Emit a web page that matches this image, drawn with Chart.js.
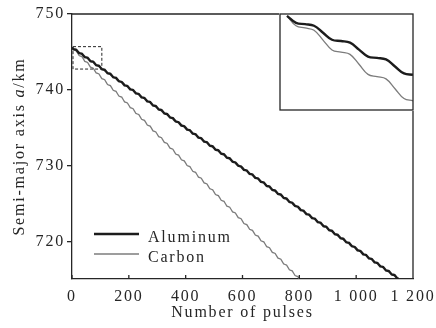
<!DOCTYPE html>
<html><head><meta charset="utf-8">
<script src="https://cdn.jsdelivr.net/npm/chart.js@4.4.1/dist/chart.umd.min.js"></script>
<style>
html,body{margin:0;padding:0;background:#fff;}
#wrap{position:relative;width:436px;height:328px;overflow:hidden;}
#main{position:absolute;left:0;top:0;}
#inset{position:absolute;left:279px;top:13px;}
</style></head><body>
<div id="wrap"><canvas id="main" width="436" height="328"></canvas><canvas id="inset" width="135" height="98"></canvas></div>
<script>
// ---- data ----
const xTickValues = [0,200,400,600,800,1000,1200];
const xTickLabels = ['0','200','400','600','800','1 000','1 200'];
const yTickValues = [720,730,740,750];
const seriesNames = ['Aluminum','Carbon'];
const pulseStep = 5; // sampling grid of the read-off values (pulses)
const aluminum = [
745.60,745.38,745.34,745.29, 745.07,744.85,744.81,744.76, 744.54,744.32,744.28,744.23,
744.01,743.79,743.75,743.70, 743.48,743.26,743.22,743.17, 742.95,742.73,742.69,742.64,
742.42,742.20,742.16,742.11, 741.89,741.67,741.63,741.58, 741.36,741.14,741.10,741.05,
740.83,740.61,740.57,740.52, 740.30,740.08,740.04,739.99, 739.77,739.55,739.51,739.46,
739.24,739.02,738.98,738.93, 738.71,738.49,738.45,738.40, 738.18,737.96,737.92,737.87,
737.65,737.43,737.39,737.34, 737.12,736.90,736.86,736.81, 736.59,736.37,736.33,736.28,
736.06,735.84,735.80,735.75, 735.53,735.31,735.27,735.22, 735.00,734.78,734.74,734.69,
734.47,734.25,734.21,734.16, 733.94,733.72,733.68,733.63, 733.41,733.19,733.15,733.10,
732.88,732.66,732.62,732.57, 732.35,732.13,732.09,732.04, 731.82,731.60,731.56,731.51,
731.29,731.07,731.03,730.98, 730.76,730.54,730.50,730.45, 730.23,730.01,729.97,729.92,
729.70,729.48,729.44,729.39, 729.17,728.95,728.91,728.86, 728.64,728.42,728.38,728.33,
728.11,727.89,727.85,727.80, 727.58,727.36,727.32,727.27, 727.05,726.83,726.79,726.74,
726.52,726.30,726.26,726.21, 725.99,725.77,725.73,725.68, 725.46,725.24,725.20,725.15,
724.93,724.71,724.67,724.62, 724.40,724.18,724.14,724.09, 723.87,723.65,723.61,723.56,
723.34,723.12,723.08,723.03, 722.81,722.59,722.55,722.50, 722.28,722.06,722.02,721.97,
721.75,721.53,721.49,721.44, 721.22,721.00,720.96,720.91, 720.69,720.47,720.43,720.38,
720.16,719.94,719.90,719.85, 719.63,719.41,719.37,719.32, 719.10,718.88,718.84,718.79,
718.57,718.35,718.31,718.26, 718.04,717.82,717.78,717.73, 717.51,717.29,717.25,717.20,
716.98,716.76,716.72,716.67, 716.45,716.23,716.19,716.14, 715.92,715.70,715.66,715.61,
715.39,715.17,715.13
];
const carbon = [
745.60,745.29,745.22,745.15, 744.84,744.53,744.46,744.39, 744.08,743.76,743.69,743.62,
743.31,743.00,742.93,742.86, 742.55,742.24,742.17,742.10, 741.79,741.48,741.41,741.34,
741.03,740.71,740.64,740.57, 740.26,739.95,739.88,739.81, 739.50,739.19,739.12,739.05,
738.74,738.43,738.36,738.29, 737.98,737.66,737.59,737.52, 737.21,736.90,736.83,736.76,
736.45,736.14,736.07,736.00, 735.69,735.38,735.31,735.24, 734.93,734.61,734.54,734.47,
734.16,733.85,733.78,733.71, 733.40,733.09,733.02,732.95, 732.64,732.33,732.26,732.19,
731.88,731.56,731.49,731.42, 731.11,730.80,730.73,730.66, 730.35,730.04,729.97,729.90,
729.59,729.28,729.21,729.14, 728.83,728.51,728.44,728.37, 728.06,727.75,727.68,727.61,
727.30,726.99,726.92,726.85, 726.54,726.23,726.16,726.09, 725.78,725.46,725.39,725.32,
725.01,724.70,724.63,724.56, 724.25,723.94,723.87,723.80, 723.49,723.18,723.11,723.04,
722.73,722.41,722.34,722.27, 721.96,721.65,721.58,721.51, 721.20,720.89,720.82,720.75,
720.44,720.13,720.06,719.99, 719.68,719.36,719.29,719.22, 718.91,718.60,718.53,718.46,
718.15,717.84,717.77,717.70, 717.39,717.08,717.01,716.94, 716.63,716.31,716.24,716.17,
715.86,715.55,715.48,715.41, 715.10
];
const zoomBox = [0, 105, 742.75, 745.7]; // x0, x1, y0, y1 of the magnified region
const insetRange = [-3.9, 70, 742.64, 745.66]; // x min, x max, y min, y max of the inset
const xTitle = 'Number of pulses';
const yTitleParts = [['Semi-major axis ', false], ['a', true], ['/km', false]];

// ---- styling ----
const FONT = '"Liberation Serif", "Times New Roman", serif';
const LS = '1.8px';
const INK = '#262626';
Chart.defaults.font.family = FONT;
Chart.defaults.font.size = 16;
Chart.defaults.color = INK;

const toPts = arr => arr.map((v, i) => ({x: i * pulseStep, y: v}));
function makeDatasets(tension) {
  return [
    {label: seriesNames[0], data: toPts(aluminum), borderColor: '#1c1c1c', borderWidth: 2.4},
    {label: seriesNames[1], data: toPts(carbon), borderColor: '#7c7c7c', borderWidth: 1.3}
  ].map(d => Object.assign(d, {pointRadius: 0, fill: false, tension: tension}));
}

const decor = {
  id: 'decor',
  beforeLayout(chart) { chart.ctx.letterSpacing = LS; },
  beforeDraw(chart) { chart.ctx.letterSpacing = LS; },
  afterDraw(chart) {
    const {ctx, chartArea: a, scales: {x, y}} = chart;
    ctx.save();
    ctx.letterSpacing = LS;
    ctx.strokeStyle = INK; ctx.lineWidth = 1.3;
    ctx.beginPath();
    ctx.moveTo(a.left, a.top); ctx.lineTo(a.right, a.top); ctx.lineTo(a.right, a.bottom);
    xTickValues.forEach(v => { const px = x.getPixelForValue(v); ctx.moveTo(px, a.bottom); ctx.lineTo(px, a.bottom - 4); });
    ctx.stroke();
    // dashed zoom box
    ctx.setLineDash([3, 2]); ctx.lineWidth = 1;
    const bx0 = x.getPixelForValue(zoomBox[0]), bx1 = x.getPixelForValue(zoomBox[1]);
    const by0 = y.getPixelForValue(zoomBox[3]), by1 = y.getPixelForValue(zoomBox[2]);
    ctx.strokeRect(bx0 + 1, by0, bx1 - bx0 - 1, by1 - by0);
    ctx.setLineDash([]);
    // legend
    ctx.font = '16px ' + FONT; ctx.fillStyle = INK; ctx.textBaseline = 'alphabetic'; ctx.textAlign = 'left';
    chart.data.datasets.forEach((d, i) => {
      const ly = a.bottom - 45 + i * 20;
      ctx.strokeStyle = d.borderColor; ctx.lineWidth = d.borderWidth;
      ctx.beginPath(); ctx.moveTo(a.left + 22, ly); ctx.lineTo(a.left + 67, ly); ctx.stroke();
      ctx.fillText(d.label, a.left + 76, ly + 7.5);
    });
    // x title
    ctx.textAlign = 'center';
    ctx.fillText(xTitle, (a.left + a.right) / 2, 317);
    // y title with italic a
    ctx.translate(20, (a.top + a.bottom) / 2);
    ctx.rotate(-Math.PI / 2);
    ctx.textAlign = 'left'; ctx.textBaseline = 'middle';
    const fonts = yTitleParts.map(p => (p[1] ? 'italic ' : '') + '16px ' + FONT);
    let total = 0;
    const widths = yTitleParts.map((p, i) => { ctx.font = fonts[i]; const w = ctx.measureText(p[0]).width; total += w; return w; });
    let cx = -total / 2;
    yTitleParts.forEach((p, i) => { ctx.font = fonts[i]; ctx.fillText(p[0], cx, 0); cx += widths[i]; });
    ctx.restore();
  }
};

new Chart(document.getElementById('main'), {
  type: 'line',
  data: {datasets: makeDatasets(0)},
  options: {
    responsive: false, animation: false, events: [],
    layout: {padding: {top: 14, right: 23, left: 0, bottom: 0}},
    plugins: {legend: {display: false}, tooltip: {enabled: false}},
    scales: {
      x: {
        type: 'linear', min: 0, max: 1200,
        afterBuildTicks: s => { s.ticks = xTickValues.map(v => ({value: v})); },
        afterFit: s => { s.height = 49; s.paddingLeft = 0; s.paddingRight = 0; },
        ticks: {autoSkip: false, maxRotation: 0, padding: 8, callback: v => xTickLabels[xTickValues.indexOf(v)] ?? ''},
        grid: {display: false, drawTicks: false},
        border: {display: true, color: INK, width: 1.3}
      },
      y: {
        type: 'linear', min: 715.1, max: 750,
        afterBuildTicks: s => { s.ticks = yTickValues.map(v => ({value: v})); },
        afterFit: s => { s.width = 72; },
        ticks: {padding: 2},
        grid: {display: true, drawOnChartArea: false, drawTicks: true, tickLength: 5, color: INK, lineWidth: 1.3},
        border: {display: true, color: INK, width: 1.3}
      }
    }
  },
  plugins: [decor]
});

const insetFrame = {
  id: 'insetFrame',
  beforeDraw(chart) {
    const {ctx, width, height} = chart;
    ctx.save(); ctx.fillStyle = '#fff'; ctx.fillRect(0, 0, width, height); ctx.restore();
  },
  afterDraw(chart) {
    const {ctx, chartArea: a} = chart;
    ctx.save(); ctx.strokeStyle = INK; ctx.lineWidth = 1.3;
    ctx.strokeRect(a.left, a.top, a.right - a.left, a.bottom - a.top);
    ctx.restore();
  }
};
new Chart(document.getElementById('inset'), {
  type: 'line',
  data: {datasets: makeDatasets(0.4)},
  options: {
    responsive: false, animation: false, events: [],
    layout: {padding: {top: 1, right: 1, left: 1, bottom: 1}},
    plugins: {legend: {display: false}, tooltip: {enabled: false}},
    scales: {
      x: {type: 'linear', min: insetRange[0], max: insetRange[1], display: false},
      y: {type: 'linear', min: insetRange[2], max: insetRange[3], display: false}
    }
  },
  plugins: [insetFrame]
});
</script>
</body></html>
